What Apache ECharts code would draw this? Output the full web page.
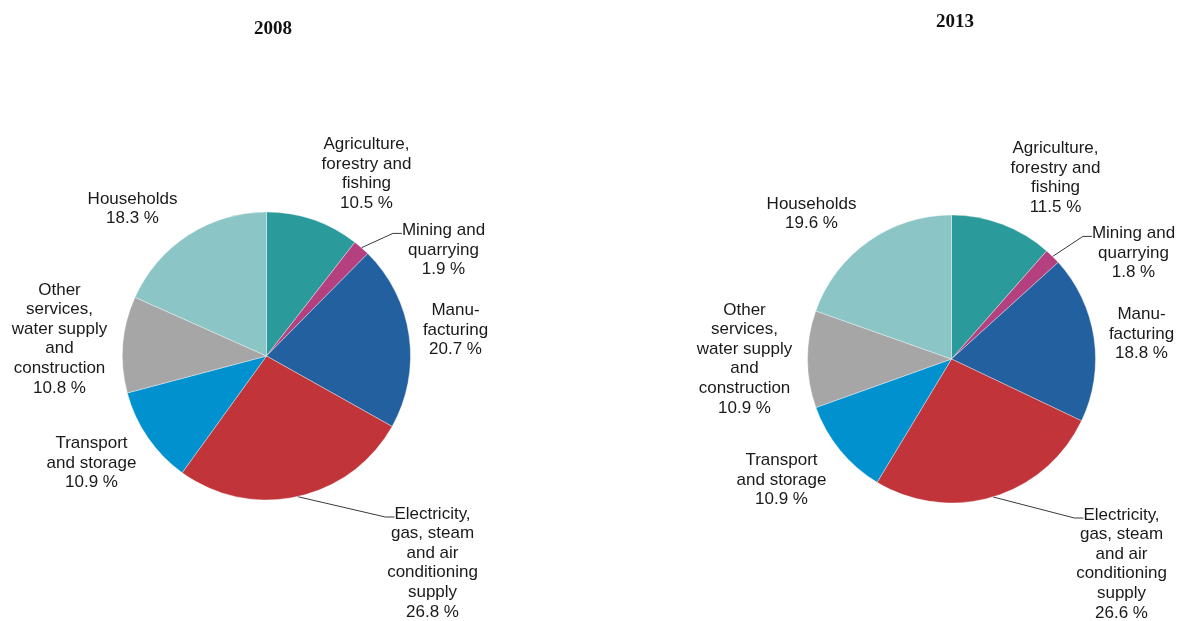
<!DOCTYPE html>
<html>
<head>
<meta charset="utf-8">
<title>Final energy consumption by sector, 2008 and 2013</title>
<script src="https://cdn.jsdelivr.net/npm/echarts@6/dist/echarts.min.js"></script>
<style>
  html, body { margin: 0; padding: 0; background: #ffffff; }
  #chart { width: 1178px; height: 621px; }
</style>
</head>
<body>
<div id="chart"></div>
<script>
// Sector names (line breaks as they are set in the labels)
const sectors = [
  'Agriculture,\nforestry and\nfishing',
  'Mining and\nquarrying',
  'Manu-\nfacturing',
  'Electricity,\ngas, steam\nand air\nconditioning\nsupply',
  'Transport\nand storage',
  'Other\nservices,\nwater supply\nand\nconstruction',
  'Households'
];

// Shares, %
const shares2008 = [10.5, 1.9, 20.7, 26.8, 10.9, 10.8, 18.3];
const shares2013 = [11.5, 1.8, 18.8, 26.6, 10.9, 10.9, 19.6];

const years = ['2008', '2013'];

// Slice colours, in sector order
const sliceColors = ['#2a9a9a', '#b5407f', '#23609f', '#c0343a', '#0191cf', '#a6a6a6', '#8cc5c6'];

// Sectors whose label is joined to the slice by a leader line
const withLeader = [false, true, false, true, false, false, false];

// Label block centres relative to the pie centre (px)
const labelOffsets2008 = [[100, -182], [177, -106], [189, -26], [166, 207], [-175, 107], [-207, -17], [-134, -147]];
const labelOffsets2013 = [[104, -181], [182, -106], [190, -25], [170, 205], [-170, 121], [-207, 0], [-140, -145]];

const pieRadius = 144;
const pieCenters = [[266.5, 356], [951.5, 359]];

const LABEL_FONT = '"Liberation Sans", Arial, sans-serif';
const LABEL_SIZE = 17;
const LINE_H = 19.6;

const chart = echarts.init(document.getElementById('chart'), null, { renderer: 'canvas' });

const labelText = (name, value) => name + '\n' + value.toFixed(1) + ' %';

// Visible slices with their value labels
function buildPie(values, center, offsets) {
  return {
    type: 'pie',
    center: center,
    radius: pieRadius,
    startAngle: 90,
    clockwise: true,
    animation: false,
    silent: true,
    avoidLabelOverlap: false,
    itemStyle: { borderColor: 'rgba(255,255,255,0.6)', borderWidth: 0.6 },
    label: {
      show: true,
      position: 'outside',
      alignTo: 'none',
      align: 'center',
      fontFamily: LABEL_FONT,
      fontSize: LABEL_SIZE,
      lineHeight: LINE_H,
      color: '#1a1a1a',
      formatter: p => labelText(p.name, p.value)
    },
    labelLine: { show: false },
    labelLayout: params => {
      const off = offsets[params.dataIndex];
      return {
        x: center[0] + off[0],
        y: center[1] + off[1],
        align: 'center',
        verticalAlign: 'middle'
      };
    },
    data: sectors.map((name, i) => ({
      name: name,
      value: values[i],
      itemStyle: { color: sliceColors[i] }
    }))
  };
}

// Leader lines: an invisible twin of the pie whose (transparent) label is the
// first text line only, so the guide line ends beside that line
function buildLeaders(values, center, offsets) {
  return {
    type: 'pie',
    center: center,
    radius: pieRadius,
    startAngle: 90,
    clockwise: true,
    animation: false,
    silent: true,
    avoidLabelOverlap: false,
    itemStyle: { color: 'rgba(0,0,0,0)' },
    label: {
      position: 'outside',
      alignTo: 'none',
      fontFamily: LABEL_FONT,
      fontSize: LABEL_SIZE,
      lineHeight: LINE_H,
      color: 'rgba(0,0,0,0)',
      formatter: p => p.name.split('\n')[0]
    },
    labelLine: {
      length: 20,
      length2: 9,
      smooth: false,
      lineStyle: { color: '#3a3a3a', width: 1 }
    },
    labelLayout: params => {
      const i = params.dataIndex;
      const off = offsets[i];
      const nLines = labelText(sectors[i], values[i]).split('\n').length;
      return {
        x: center[0] + off[0],
        y: center[1] + off[1] - (nLines - 1) / 2 * LINE_H + 3,
        align: 'center',
        verticalAlign: 'middle'
      };
    },
    data: sectors.map((name, i) => ({
      name: name,
      value: values[i],
      label: { show: withLeader[i] },
      labelLine: { show: withLeader[i] }
    }))
  };
}

const titleStyle = {
  fontFamily: '"Liberation Serif", "Times New Roman", serif',
  fontWeight: 'bold',
  fontSize: 19,
  color: '#111111'
};

const option = {
  backgroundColor: '#ffffff',
  title: [
    { text: years[0], left: 268, top: 15, textAlign: 'center', textStyle: titleStyle },
    { text: years[1], left: 950, top: 8, textAlign: 'center', textStyle: titleStyle }
  ],
  series: [
    buildPie(shares2008, pieCenters[0], labelOffsets2008),
    buildPie(shares2013, pieCenters[1], labelOffsets2013),
    buildLeaders(shares2008, pieCenters[0], labelOffsets2008),
    buildLeaders(shares2013, pieCenters[1], labelOffsets2013)
  ]
};

chart.setOption(option);
</script>
</body>
</html>
